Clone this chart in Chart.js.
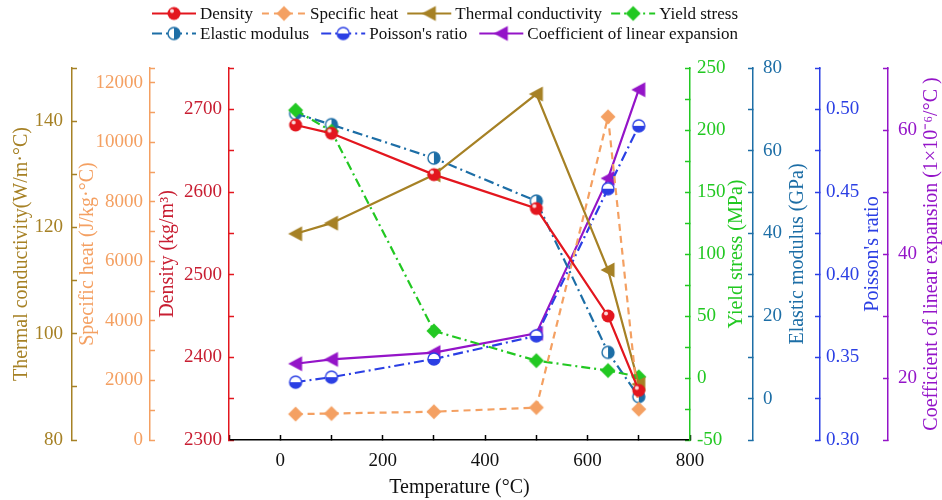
<!DOCTYPE html>
<html>
<head>
<meta charset="utf-8">
<script src="https://cdn.jsdelivr.net/npm/chart.js@4.4.1/dist/chart.umd.min.js"></script>
<style>
  html, body { margin: 0; padding: 0; background: #fff; }
</style>
</head>
<body>
<canvas id="chart" width="942" height="500"></canvas>
<script>
const temperature = [30, 100, 300, 500, 640, 700];
const density = [2681, 2671, 2621, 2580, 2450, 2360];
const specificHeat = [870, 890, 950, 1090, 10860, 1035];
const thermalConductivity = [118.8, 120.8, 129.9, 145.1, 112, 90.5];
const yieldStress = [216, 199, 38, 14, 6, 1];
const elasticModulus = [69, 66.3, 58.2, 47.8, 11.2, 0.5];
const poissonRatio = [0.335, 0.338, 0.349, 0.363, 0.452, 0.490];
const expansionCoeff = [22.3, 23.0, 24.1, 27.2, 52.2, 66.5];

// tick marks (every one drawn, only the labelled ones get text)
function steps(min, max, step) {
  const out = [];
  for (let v = min; v <= max + step / 1000; v += step) out.push(Math.round(v * 1000) / 1000);
  return out;
}
const tempTicks = steps(-100, 800, 100);
const densityTicks = steps(2300, 2750, 50);
const specificTicks = steps(0, 12500, 1000).concat([12500]);
const thermalTicks = steps(80, 150, 10);
const yieldTicks = steps(-50, 250, 25);
const elasticTicks = steps(-10, 80, 10);
const poissonTicks = steps(0.3, 0.525, 0.025);
const expansionTicks = steps(10, 70, 10);

const serif = "'Liberation Serif', 'Times New Roman', serif";

const colors = {
  density: '#e3161e',
  specific: '#f4a062',
  thermal: '#a68125',
  yield: '#22c822',
  elastic: '#1d6ea6',
  poisson: '#2b3fe4',
  expansion: '#9414c8'
};

function makeMarker(kind, color) {
  const c = document.createElement('canvas');
  c.width = 18;
  c.height = 18;
  const g = c.getContext('2d');
  const m = 9;
  g.lineWidth = 1.4;
  if (kind === 'ball') {
    g.fillStyle = color;
    g.beginPath(); g.arc(m, m, 6.5, 0, Math.PI * 2); g.fill();
    g.fillStyle = 'rgba(255,255,255,0.85)';
    g.beginPath(); g.arc(m - 2, m - 2.5, 2, 0, Math.PI * 2); g.fill();
  } else if (kind === 'diamond') {
    g.fillStyle = color;
    g.beginPath(); g.moveTo(m, m - 7.5); g.lineTo(m + 7.5, m); g.lineTo(m, m + 7.5); g.lineTo(m - 7.5, m); g.closePath(); g.fill();
  } else if (kind === 'triLeft') {
    g.fillStyle = color;
    g.beginPath(); g.moveTo(m - 7.5, m); g.lineTo(m + 6.5, m - 7.5); g.lineTo(m + 6.5, m + 7.5); g.closePath(); g.fill();
  } else {
    g.fillStyle = '#fff';
    g.beginPath(); g.arc(m, m, 6, 0, Math.PI * 2); g.fill();
    g.fillStyle = color;
    g.beginPath();
    if (kind === 'halfRight') g.arc(m, m, 6, -Math.PI / 2, Math.PI / 2);
    else g.arc(m, m, 6, 0, Math.PI);
    g.closePath(); g.fill();
    g.strokeStyle = color;
    g.beginPath(); g.arc(m, m, 6, 0, Math.PI * 2); g.stroke();
  }
  return c;
}

function series(label, values, axis, color, marker, dash) {
  const pts = temperature.map((t, i) => ({ x: t, y: values[i] }));
  return {
    label: label,
    data: pts,
    yAxisID: axis,
    borderColor: color,
    backgroundColor: color,
    borderWidth: 2.2,
    borderDash: dash,
    pointStyle: makeMarker(marker, color),
    pointRadius: 6,
    tension: 0
  };
}

function yAxis(opts) {
  return {
    type: 'linear',
    position: opts.position,
    weight: opts.weight,
    min: opts.min,
    max: opts.max,
    afterBuildTicks: (s) => { s.ticks = opts.ticks.map(v => ({ value: v })); },
    afterFit: (s) => { s.width = opts.width; },
    grid: { drawOnChartArea: false, tickLength: -5, tickColor: opts.color, tickWidth: 1.5 },
    border: { color: opts.color, width: 1.5 },
    ticks: {
      autoSkip: false,
      padding: opts.pad,
      color: opts.labelColor || opts.color,
      font: { family: serif, size: 19 },
      callback: opts.fmt
    },
    title: opts.title ? {
      display: true,
      text: opts.title,
      color: opts.labelColor || opts.color,
      font: { family: serif, size: 20 },
      padding: { top: opts.titlePad, bottom: 0 }
    } : { display: false }
  };
}

const rightTitles = [
  ['yYield', 'Yield stress (MPa)', 47],
  ['yElastic', 'Elastic modulus (GPa)', 45],
  ['yPoisson', "Poisson's ratio", 53],
  ['yExpansion', 'Coefficient of linear expansion (1\u00d710\u207b\u2076/\u00b0C )', 44]
];

const decor = {
  id: 'decor',
  afterDraw(chart) {
    const ctx = chart.ctx;
    const a = chart.chartArea;
    const cy = (a.top + a.bottom) / 2;
    ctx.save();
    ctx.font = '20px ' + serif;
    ctx.textAlign = 'center';
    ctx.textBaseline = 'middle';
    rightTitles.forEach(([id, text, off]) => {
      const s = chart.scales[id];
      ctx.save();
      ctx.translate(s.left + off, cy);
      ctx.rotate(-Math.PI / 2);
      ctx.fillStyle = s.options.border.color;
      ctx.fillText(text, 0, 0);
      ctx.restore();
    });

    // legend, two rows
    const rows = [[0, 1, 2, 3], [4, 5, 6]];
    const rowY = [13.5, 33.5];
    ctx.font = '17px ' + serif;
    ctx.textAlign = 'left';
    rows.forEach((row, r) => {
      const widths = row.map(i => 48 + ctx.measureText(chart.data.datasets[i].label).width);
      const total = widths.reduce((p, q) => p + q, 0);
      const gap = (586 - total) / (row.length - 1);
      let x = 152;
      row.forEach((i, k) => {
        const ds = chart.data.datasets[i];
        ctx.strokeStyle = ds.borderColor;
        ctx.lineWidth = 2.2;
        ctx.setLineDash(ds.borderDash || []);
        ctx.beginPath();
        ctx.moveTo(x, rowY[r]);
        ctx.lineTo(x + 44, rowY[r]);
        ctx.stroke();
        ctx.setLineDash([]);
        ctx.drawImage(ds.pointStyle, x + 13, rowY[r] - 9);
        ctx.fillStyle = '#111';
        ctx.fillText(ds.label, x + 48, rowY[r] + 1);
        x += widths[k] + gap;
      });
    });
    ctx.restore();
  }
};

new Chart(document.getElementById('chart'), {
  type: 'line',
  data: {
    datasets: [
      series('Density', density, 'yDensity', colors.density, 'ball', []),
      series('Specific heat', specificHeat, 'ySpecific', colors.specific, 'diamond', [7, 5]),
      series('Thermal conductivity', thermalConductivity, 'yThermal', colors.thermal, 'triLeft', []),
      series('Yield stress', yieldStress, 'yYield', colors.yield, 'diamond', [9, 4, 2, 4]),
      series('Elastic modulus', elasticModulus, 'yElastic', colors.elastic, 'halfRight', [10, 4, 2, 4]),
      series("Poisson's ratio", poissonRatio, 'yPoisson', colors.poisson, 'halfBottom', [10, 4, 2, 4]),
      series('Coefficient of linear expansion', expansionCoeff, 'yExpansion', colors.expansion, 'triLeft', [])
    ]
  },
  options: {
    responsive: false,
    animation: false,
    devicePixelRatio: 1,
    layout: { padding: { top: 68 } },
    plugins: {
      legend: { display: false },
      tooltip: { enabled: false }
    },
    scales: {
      x: {
        type: 'linear',
        position: 'bottom',
        min: -100,
        max: 800,
        afterBuildTicks: (s) => { s.ticks = tempTicks.map(v => ({ value: v })); },
        afterFit: (s) => { s.height = 60; },
        grid: { drawOnChartArea: false, tickLength: -5, tickColor: '#000', tickWidth: 1.5 },
        border: { color: '#000', width: 1.5 },
        ticks: {
          autoSkip: false,
          maxRotation: 0,
          padding: 15,
          color: '#111',
          font: { family: serif, size: 19 },
          callback: v => (v % 200 === 0 ? v : '')
        },
        title: {
          display: true,
          text: 'Temperature (\u00b0C)',
          color: '#111',
          font: { family: serif, size: 20 },
          padding: { top: 0, bottom: 0 }
        }
      },
      yDensity: yAxis({
        position: 'left', weight: 0, min: 2300, max: 2750, ticks: densityTicks, width: 79, pad: 12,
        color: colors.density, labelColor: '#c81e32', title: 'Density (kg/m\u00b3)', titlePad: 6,
        fmt: v => (v % 100 === 0 ? v : '')
      }),
      ySpecific: yAxis({
        position: 'left', weight: 1, min: 0, max: 12500, ticks: specificTicks, width: 78, pad: 12,
        color: colors.specific, title: 'Specific heat (J/kg\u00b7\u00b0C)', titlePad: 4,
        fmt: v => (v % 2000 === 0 ? v : '')
      }),
      yThermal: yAxis({
        position: 'left', weight: 2, min: 80, max: 150, ticks: thermalTicks, width: 72, pad: 14,
        color: colors.thermal, title: 'Thermal conductivity(W/m\u00b7\u00b0C)', titlePad: 10,
        fmt: v => (v % 20 === 0 && v < 150 ? v : '')
      }),
      yYield: yAxis({
        position: 'right', weight: 0, min: -50, max: 250, ticks: yieldTicks, width: 63, pad: 12,
        color: colors.yield,
        fmt: v => (v % 50 === 0 ? v : '')
      }),
      yElastic: yAxis({
        position: 'right', weight: 1, min: -10, max: 80, ticks: elasticTicks, width: 67, pad: 15,
        color: colors.elastic,
        fmt: v => (v % 20 === 0 ? v : '')
      }),
      yPoisson: yAxis({
        position: 'right', weight: 2, min: 0.3, max: 0.525, ticks: poissonTicks, width: 68, pad: 11,
        color: colors.poisson,
        fmt: v => (Math.round(v * 1000) % 50 === 0 ? v.toFixed(2) : '')
      }),
      yExpansion: yAxis({
        position: 'right', weight: 3, min: 10, max: 70, ticks: expansionTicks, width: 54, pad: 15,
        color: colors.expansion,
        fmt: v => (v % 20 === 0 ? v : '')
      })
    }
  },
  plugins: [decor]
});
</script>
</body>
</html>
